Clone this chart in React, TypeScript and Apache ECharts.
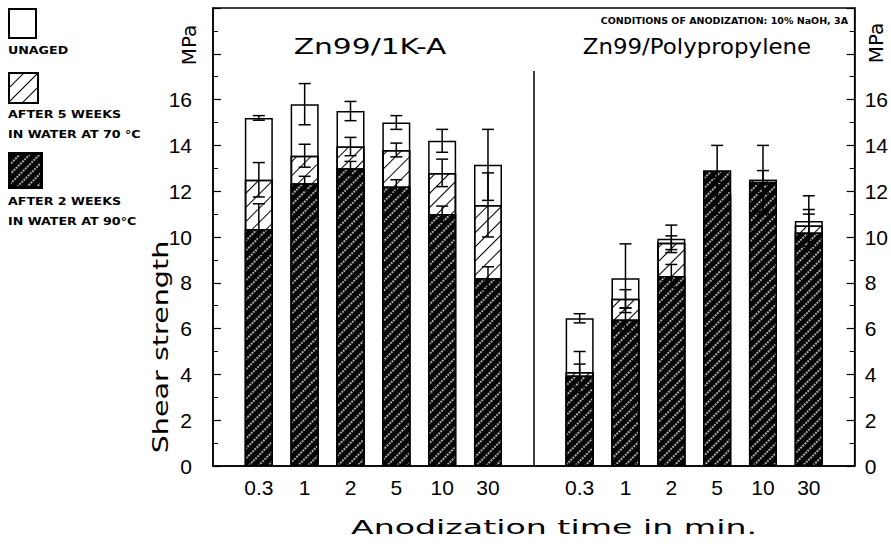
import React, { useEffect, useRef } from "react";
import * as echarts from "echarts";

// ---- data ----
const xLabels = ["", "0.3", "1", "2", "5", "10", "30", "", "0.3", "1", "2", "5", "10", "30", ""];
const positions = [1, 2, 3, 4, 5, 6, 8, 9, 10, 11, 12, 13];
const unaged = [15.2, 15.8, 15.5, 15.0, 14.2, 13.15, 6.45, 8.2, 9.92, 11.8, 11.7, 10.7];
const unagedErr = [0.1, 0.9, 0.42, 0.3, 0.5, 1.55, 0.2, 1.5, 0.6, 0.8, 0.6, 1.1];
const weeks5at70 = [12.5, 13.55, 13.95, 13.8, 12.8, 11.4, 4.1, 7.3, 9.75, 11.9, 12.5, 10.5];
const weeks5at70Err = [0.75, 0.5, 0.4, 0.3, 0.6, 1.4, 0.9, 0.4, 0.3, 0.5, 1.5, 0.7];
const weeks2at90 = [10.35, 12.35, 13.0, 12.2, 11.0, 8.2, 3.95, 6.4, 8.3, 12.9, 12.4, 10.2];
const weeks2at90Err = [1.1, 0.3, 0.3, 0.3, 0.35, 0.5, 0.5, 0.5, 0.5, 1.1, 0.5, 0.8];
const yTickMaxLabel = 16;
const separatorAt = 7;
const separatorTop = 17.25;

const S_UNAGED = "Unaged";
const S_W5 = "After 5 weeks in water at 70 °C";
const S_W2 = "After 2 weeks in water at 90 °C";

const WORD_FONT = "DejaVu Sans";
const NUM_FONT = "Liberation Sans";

function errSeries(name: string, vals: number[], errs: number[]) {
  return {
    type: "custom",
    name,
    silent: true,
    z: 10,
    encode: { x: 0, y: 1 },
    data: positions.map((p, i) => [p, vals[i], errs[i]]),
    renderItem: (_params: any, api: any) => {
      const x = api.value(0);
      const y = api.value(1);
      const e = api.value(2);
      const top = api.coord([x, y + e]);
      const bot = api.coord([x, y - e]);
      const hw = 6;
      const st = { stroke: "#000", lineWidth: 1.5 };
      return {
        type: "group",
        children: [
          { type: "line", shape: { x1: top[0], y1: top[1], x2: bot[0], y2: bot[1] }, style: st },
          { type: "line", shape: { x1: top[0] - hw, y1: top[1], x2: top[0] + hw, y2: top[1] }, style: st },
          { type: "line", shape: { x1: bot[0] - hw, y1: bot[1], x2: bot[0] + hw, y2: bot[1] }, style: st },
        ],
      };
    },
  };
}

const hatchDecal = {
  symbol: "rect",
  symbolSize: 1,
  color: "#000",
  dashArrayX: [1, 0],
  dashArrayY: [1, 9],
  rotation: -Math.PI / 4,
};
const darkDecal = {
  symbol: "rect",
  symbolSize: 1,
  color: "#a8a8a8",
  dashArrayX: [2, 1],
  dashArrayY: [2, 5],
  rotation: -Math.PI / 4,
};

export default function App() {
  const ref = useRef<HTMLDivElement>(null);
  useEffect(() => {
    document.body.style.margin = "0";
    const chart = echarts.init(ref.current!, undefined, { renderer: "svg" });
    const legendBase = {
      left: 8,
      orient: "vertical",
      padding: 0,
      icon: "rect",
      selectedMode: false,
      formatter: () => "",
      textStyle: { fontSize: 1 },
    };
    const yAxisBase = {
      type: "value",
      min: 0,
      max: 20,
      interval: 2,
      axisLine: { show: true, lineStyle: { color: "#000", width: 1.5 } },
      axisTick: { show: true, inside: true, length: 8, lineStyle: { color: "#000", width: 1.2 } },
      minorTick: { show: true, splitNumber: 2, length: 5, lineStyle: { color: "#000", width: 1 } },
      splitLine: { show: false },
    };
    const txt = (text: string, x: number, y: number, font: string, extra: any = {}) => ({
      type: "text",
      x,
      y,
      silent: true,
      ...extra,
      style: { text, font, fill: "#000", textAlign: "left", textVerticalAlign: "middle", ...(extra.style || {}) },
    });
    const legendFont = `bold 11px "${WORD_FONT}"`;
    chart.setOption({
      animation: false,
      backgroundColor: "#fff",
      grid: { left: 213, right: 36, top: 8, bottom: 78, show: true, borderColor: "#000", borderWidth: 1.5 },
      legend: [
        { ...legendBase, top: 8, itemWidth: 27, itemHeight: 29, data: [S_UNAGED] },
        { ...legendBase, top: 72, itemWidth: 29, itemHeight: 30, data: [S_W5] },
        { ...legendBase, top: 152, itemWidth: 32, itemHeight: 34, data: [S_W2], itemStyle: { borderWidth: 3 } },
      ],
      xAxis: {
        type: "value",
        min: 0,
        max: 14,
        interval: 1,
        axisLine: { show: true, lineStyle: { color: "#000", width: 1.5 } },
        axisTick: { show: false },
        splitLine: { show: false },
        axisLabel: {
          formatter: (v: number) => xLabels[v] ?? "",
          fontSize: 21,
          fontFamily: NUM_FONT,
          color: "#000",
          margin: 11,
          showMinLabel: true,
          showMaxLabel: true,
        },
      },
      yAxis: [
        {
          ...yAxisBase,
          position: "left",
          axisLabel: {
            formatter: (v: number) => (v <= yTickMaxLabel ? String(v) : ""),
            fontSize: 21,
            fontFamily: NUM_FONT,
            color: "#000",
            margin: 21,
          },
        },
        {
          ...yAxisBase,
          position: "right",
          axisLabel: {
            formatter: (v: number) => (v <= yTickMaxLabel ? String(v) : ""),
            fontSize: 21,
            fontFamily: NUM_FONT,
            color: "#000",
            margin: 10,
          },
        },
      ],
      series: [
        {
          type: "bar",
          name: S_UNAGED,
          barWidth: 28,
          barGap: "-100%",
          z: 2,
          itemStyle: { color: "#fff", borderColor: "#000", borderWidth: 1.5 },
          data: positions.map((p, i) => [p, unaged[i]]),
        },
        {
          type: "bar",
          name: S_W5,
          barWidth: 28,
          barGap: "-100%",
          z: 3,
          itemStyle: { color: "#fff", borderColor: "#000", borderWidth: 1.5, decal: hatchDecal },
          data: positions.map((p, i) => [p, weeks5at70[i]]),
        },
        {
          type: "bar",
          name: S_W2,
          barWidth: 28,
          barGap: "-100%",
          z: 4,
          itemStyle: { color: "#050505", borderColor: "#000", borderWidth: 1.5, decal: darkDecal },
          data: positions.map((p, i) => [p, weeks2at90[i]]),
          markLine: {
            silent: true,
            symbol: "none",
            label: { show: false },
            lineStyle: { color: "#000", width: 1.5, type: "solid" },
            data: [[{ coord: [separatorAt, 0] }, { coord: [separatorAt, separatorTop] }]],
          },
        },
        errSeries("Unaged error", unaged, unagedErr),
        errSeries("70 °C error", weeks5at70, weeks5at70Err),
        errSeries("90 °C error", weeks2at90, weeks2at90Err),
      ],
      graphic: [
        txt("UNAGED", 8, 50, legendFont, { scaleX: 1.15 }),
        txt("AFTER 5 WEEKS", 8, 114, legendFont, { scaleX: 1.15 }),
        txt("IN WATER AT 70 °C", 8, 134, legendFont, { scaleX: 1.15 }),
        txt("AFTER 2 WEEKS", 8, 201, legendFont, { scaleX: 1.15 }),
        txt("IN WATER AT 90°C", 8, 221, legendFont, { scaleX: 1.15 }),
        txt("CONDITIONS OF ANODIZATION: 10% NaOH, 3A", 848, 20, `bold 9.5px "${WORD_FONT}"`, {
          style: { textAlign: "right" },
        }),
        txt("Zn99/1K-A", 370, 46, `22px "${WORD_FONT}"`, { scaleX: 1.35, style: { textAlign: "center" } }),
        txt("Zn99/Polypropylene", 697, 46, `22px "${WORD_FONT}"`, { scaleX: 1.04, style: { textAlign: "center" } }),
        txt("MPa", 189, 45, `20px "${WORD_FONT}"`, { rotation: Math.PI / 2, style: { textAlign: "center" } }),
        txt("MPa", 876, 43, `20px "${WORD_FONT}"`, { rotation: Math.PI / 2, style: { textAlign: "center" } }),
        txt("Shear strength", 160, 347, `22px "${WORD_FONT}"`, {
          rotation: Math.PI / 2,
          scaleX: 1.3,
          style: { textAlign: "center" },
        }),
        txt("Anodization time in min.", 554, 527, `19px "${WORD_FONT}"`, {
          scaleX: 1.75,
          style: { textAlign: "center" },
        }),
      ],
    });
    return () => chart.dispose();
  }, []);
  return <div ref={ref} style={{ width: 891, height: 544 }} />;
}
